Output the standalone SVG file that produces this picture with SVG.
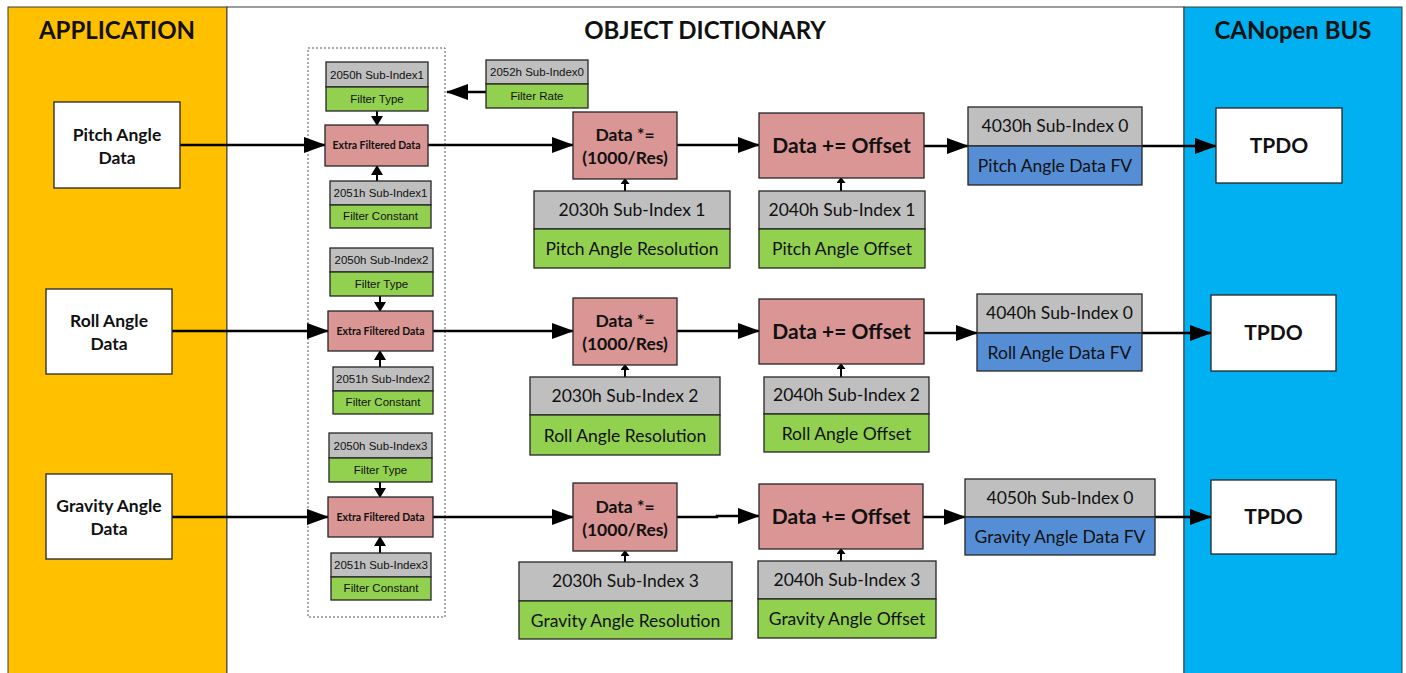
<svg xmlns="http://www.w3.org/2000/svg" width="1406" height="673" viewBox="0 0 1406 673">
<defs>
<style>
.panel{stroke:#3a3a3a;stroke-width:1}
.box{stroke:#262626;stroke-width:1.3}
.white{fill:#fff}
.pink{fill:#D99694}
.gray{fill:#BFBFBF}
.green{fill:#92D050}
.blue{fill:#558ED5}
.t{font-family:Lato,"Open Sans",sans-serif;fill:#111;text-anchor:middle}
.title{font-size:24px;font-weight:bold}
.in{font-size:17.5px;font-weight:bold}
.op{font-size:21px;font-weight:bold}
.op2{font-size:17.5px;font-weight:bold}
.sub{font-size:17.5px}
.s{font-family:"Liberation Sans",Arial,sans-serif;font-size:11.5px;fill:#111;text-anchor:middle}
.efd{font-size:10.5px;font-weight:bold}
.ln{stroke:#000;stroke-width:2.5;fill:none}
.lns{stroke:#000;stroke-width:2;fill:none}
</style>
<marker id="big" markerUnits="userSpaceOnUse" markerWidth="22" markerHeight="16" refX="21" refY="8" orient="auto">
<path d="M0,0 L22,8 L0,16 z" fill="#000"/>
</marker>
<marker id="mid" markerUnits="userSpaceOnUse" markerWidth="10" markerHeight="12" refX="9" refY="6" orient="auto">
<path d="M0,0 L10,6 L0,12 z" fill="#000"/>
</marker>
<marker id="tiny" markerUnits="userSpaceOnUse" markerWidth="6" markerHeight="9" refX="5" refY="4.5" orient="auto">
<path d="M0,0 L6,4.5 L0,9 z" fill="#000"/>
</marker>
</defs>

<!-- background panels -->
<g id="panels">
<rect class="panel" x="8" y="7" width="219" height="672" fill="#FFC000"/>
<rect class="panel" x="227" y="7" width="957" height="672" fill="#fff" stroke="#888"/>
<rect class="panel" x="1184" y="7" width="218" height="672" fill="#00B0F0"/>
<text class="t title" x="117" y="39">APPLICATION</text>
<text class="t title" x="705" y="39">OBJECT DICTIONARY</text>
<text class="t title" x="1293" y="39">CANopen BUS</text>
<rect x="308" y="48" width="137" height="569" fill="none" stroke="#555" stroke-width="1" stroke-dasharray="2,2"/>
</g>

<!-- connectors -->
<g id="connectors">
<!-- row 1 -->
<path class="ln" d="M180,145 H325" marker-end="url(#big)"/>
<path class="ln" d="M428,145 H573" marker-end="url(#big)"/>
<path class="ln" d="M677,145 H759" marker-end="url(#big)"/>
<path class="ln" d="M924,146 H968" marker-end="url(#big)"/>
<path class="ln" d="M1142,146 H1216" marker-end="url(#big)"/>
<path class="ln" d="M486,92 H447" marker-end="url(#big)"/>
<path class="lns" d="M377,111 V125" marker-end="url(#mid)"/>
<path class="lns" d="M377,181 V166" marker-end="url(#mid)"/>
<path class="lns" d="M625,191 V179" marker-end="url(#tiny)"/>
<path class="lns" d="M841,191 V178" marker-end="url(#tiny)"/>
<!-- row 2 -->
<path class="ln" d="M172,331 H328" marker-end="url(#big)"/>
<path class="ln" d="M433,331 H573" marker-end="url(#big)"/>
<path class="ln" d="M677,331 H759" marker-end="url(#big)"/>
<path class="ln" d="M924,333 H977" marker-end="url(#big)"/>
<path class="ln" d="M1142,333 H1211" marker-end="url(#big)"/>
<path class="lns" d="M380,296 V311" marker-end="url(#mid)"/>
<path class="lns" d="M380,367 V351" marker-end="url(#mid)"/>
<path class="lns" d="M625,377 V365" marker-end="url(#tiny)"/>
<path class="lns" d="M841,377 V364" marker-end="url(#tiny)"/>
<!-- row 3 -->
<path class="ln" d="M172,517 H328" marker-end="url(#big)"/>
<path class="ln" d="M433,517 H573" marker-end="url(#big)"/>
<path class="ln" d="M677,517 H717 V516 H759" marker-end="url(#big)"/>
<path class="ln" d="M923,517 H965" marker-end="url(#big)"/>
<path class="ln" d="M1155,517 H1211" marker-end="url(#big)"/>
<path class="lns" d="M380,482 V497" marker-end="url(#mid)"/>
<path class="lns" d="M380,553 V537" marker-end="url(#mid)"/>
<path class="lns" d="M625,562 V551" marker-end="url(#tiny)"/>
<path class="lns" d="M841,561 V549" marker-end="url(#tiny)"/>
</g>

<!-- row 1: pitch -->
<g id="pitch-in"><rect class="box white" x="54" y="102" width="126" height="86"/>
<text class="t in" x="117" y="141">Pitch Angle</text><text class="t in" x="117" y="164">Data</text></g>
<g id="pitch-ftype"><rect class="box gray" x="326" y="62" width="102" height="25"/><rect class="box green" x="326" y="87" width="102" height="24"/>
<text class="s" x="377" y="79">2050h Sub-Index1</text><text class="s" x="377" y="103">Filter Type</text></g>
<g id="pitch-filter"><rect class="box pink" x="325" y="125" width="103" height="41"/>
<text class="t efd" x="376.5" y="149">Extra Filtered Data</text></g>
<g id="pitch-fconst"><rect class="box gray" x="330" y="181" width="101" height="24"/><rect class="box green" x="330" y="205" width="101" height="23"/>
<text class="s" x="380.5" y="197">2051h Sub-Index1</text><text class="s" x="380.5" y="220">Filter Constant</text></g>
<g id="filter-rate"><rect class="box gray" x="486" y="60" width="102" height="24"/><rect class="box green" x="486" y="84" width="102" height="24"/>
<text class="s" x="537" y="76">2052h Sub-Index0</text><text class="s" x="537" y="100">Filter Rate</text></g>
<g id="pitch-scale"><rect class="box pink" x="573" y="112" width="104" height="67"/>
<text class="t op2" x="625" y="141">Data *=</text><text class="t op2" x="625" y="164">(1000/Res)</text></g>
<g id="pitch-offset"><rect class="box pink" x="759" y="113" width="165" height="65"/>
<text class="t op" x="841.5" y="153">Data += Offset</text></g>
<g id="pitch-res"><rect class="box gray" x="534" y="191" width="196" height="38"/><rect class="box green" x="534" y="229" width="196" height="39"/>
<text class="t sub" x="632" y="216">2030h Sub-Index 1</text><text class="t sub" x="632" y="255">Pitch Angle Resolution</text></g>
<g id="pitch-off"><rect class="box gray" x="759" y="191" width="166" height="38"/><rect class="box green" x="759" y="229" width="166" height="39"/>
<text class="t sub" x="842" y="216">2040h Sub-Index 1</text><text class="t sub" x="842" y="255">Pitch Angle Offset</text></g>
<g id="pitch-fv"><rect class="box gray" x="968" y="107" width="174" height="39"/><rect class="box blue" x="968" y="146" width="174" height="39"/>
<text class="t sub" x="1055" y="132">4030h Sub-Index 0</text><text class="t sub" x="1055" y="172">Pitch Angle Data FV</text></g>
<g id="pitch-tpdo"><rect class="box white" x="1216" y="108" width="126" height="75"/>
<text class="t op" x="1279" y="153">TPDO</text></g>

<!-- row 2: roll -->
<g id="roll-in"><rect class="box white" x="46" y="289" width="126" height="85"/>
<text class="t in" x="109" y="327">Roll Angle</text><text class="t in" x="109" y="350">Data</text></g>
<g id="roll-ftype"><rect class="box gray" x="330" y="248" width="103" height="24"/><rect class="box green" x="330" y="272" width="103" height="24"/>
<text class="s" x="381.5" y="264">2050h Sub-Index2</text><text class="s" x="381.5" y="288">Filter Type</text></g>
<g id="roll-filter"><rect class="box pink" x="328" y="311" width="105" height="40"/>
<text class="t efd" x="380.5" y="334.5">Extra Filtered Data</text></g>
<g id="roll-fconst"><rect class="box gray" x="333" y="367" width="100" height="24"/><rect class="box green" x="333" y="391" width="100" height="23"/>
<text class="s" x="383" y="383">2051h Sub-Index2</text><text class="s" x="383" y="406">Filter Constant</text></g>
<g id="roll-scale"><rect class="box pink" x="573" y="298" width="104" height="67"/>
<text class="t op2" x="625" y="327">Data *=</text><text class="t op2" x="625" y="350">(1000/Res)</text></g>
<g id="roll-offset"><rect class="box pink" x="759" y="299" width="165" height="65"/>
<text class="t op" x="841.5" y="339">Data += Offset</text></g>
<g id="roll-res"><rect class="box gray" x="530" y="377" width="190" height="38"/><rect class="box green" x="530" y="415" width="190" height="40"/>
<text class="t sub" x="625" y="402">2030h Sub-Index 2</text><text class="t sub" x="625" y="442">Roll Angle Resolution</text></g>
<g id="roll-off"><rect class="box gray" x="764" y="377" width="165" height="37"/><rect class="box green" x="764" y="414" width="165" height="38"/>
<text class="t sub" x="846.5" y="401">2040h Sub-Index 2</text><text class="t sub" x="846.5" y="440">Roll Angle Offset</text></g>
<g id="roll-fv"><rect class="box gray" x="977" y="294" width="165" height="39"/><rect class="box blue" x="977" y="333" width="165" height="38"/>
<text class="t sub" x="1059.5" y="319">4040h Sub-Index 0</text><text class="t sub" x="1059.5" y="359">Roll Angle Data FV</text></g>
<g id="roll-tpdo"><rect class="box white" x="1211" y="295" width="125" height="76"/>
<text class="t op" x="1273.5" y="340">TPDO</text></g>

<!-- row 3: gravity -->
<g id="gravity-in"><rect class="box white" x="46" y="474" width="126" height="85"/>
<text class="t in" x="109" y="512">Gravity Angle</text><text class="t in" x="109" y="535">Data</text></g>
<g id="gravity-ftype"><rect class="box gray" x="329" y="433" width="103" height="25"/><rect class="box green" x="329" y="458" width="103" height="24"/>
<text class="s" x="380.5" y="450">2050h Sub-Index3</text><text class="s" x="380.5" y="474">Filter Type</text></g>
<g id="gravity-filter"><rect class="box pink" x="328" y="497" width="105" height="40"/>
<text class="t efd" x="380.5" y="520.5">Extra Filtered Data</text></g>
<g id="gravity-fconst"><rect class="box gray" x="331" y="553" width="100" height="24"/><rect class="box green" x="331" y="577" width="100" height="23"/>
<text class="s" x="381" y="569">2051h Sub-Index3</text><text class="s" x="381" y="592">Filter Constant</text></g>
<g id="gravity-scale"><rect class="box pink" x="573" y="483" width="104" height="68"/>
<text class="t op2" x="625" y="513">Data *=</text><text class="t op2" x="625" y="536">(1000/Res)</text></g>
<g id="gravity-offset"><rect class="box pink" x="759" y="484" width="164" height="65"/>
<text class="t op" x="841" y="524">Data += Offset</text></g>
<g id="gravity-res"><rect class="box gray" x="519" y="562" width="213" height="39"/><rect class="box green" x="519" y="601" width="213" height="38"/>
<text class="t sub" x="625.5" y="587">2030h Sub-Index 3</text><text class="t sub" x="625.5" y="627">Gravity Angle Resolution</text></g>
<g id="gravity-off"><rect class="box gray" x="758" y="561" width="178" height="38"/><rect class="box green" x="758" y="599" width="178" height="39"/>
<text class="t sub" x="847" y="586">2040h Sub-Index 3</text><text class="t sub" x="847" y="625">Gravity Angle Offset</text></g>
<g id="gravity-fv"><rect class="box gray" x="965" y="479" width="190" height="38"/><rect class="box blue" x="965" y="517" width="190" height="38"/>
<text class="t sub" x="1060" y="504">4050h Sub-Index 0</text><text class="t sub" x="1060" y="543">Gravity Angle Data FV</text></g>
<g id="gravity-tpdo"><rect class="box white" x="1211" y="480" width="125" height="74"/>
<text class="t op" x="1273.5" y="524">TPDO</text></g>
</svg>
